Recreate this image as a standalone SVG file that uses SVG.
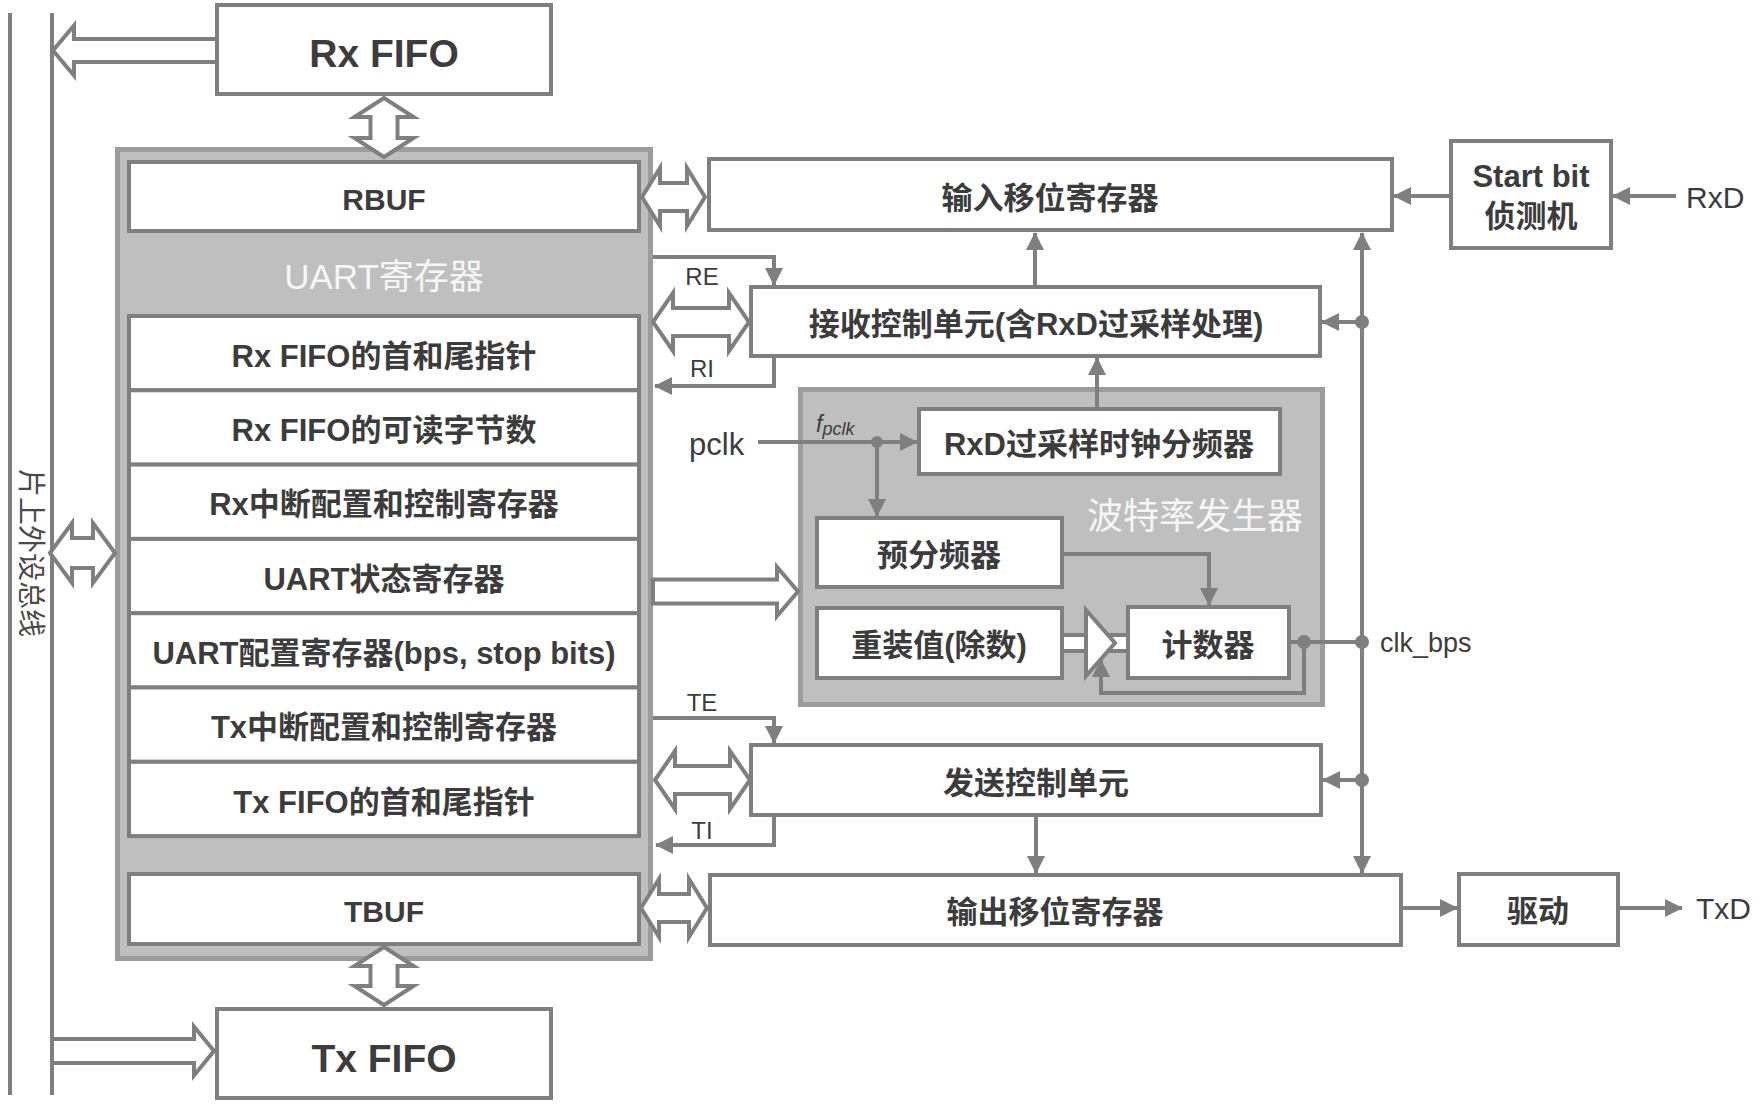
<svg xmlns="http://www.w3.org/2000/svg" width="1764" height="1104" viewBox="0 0 1764 1104">
<defs>
<style>
.box{fill:#fff;stroke:#7f7f7f;stroke-width:4}
.grp{fill:#bfbfbf;stroke:#9c9c9c;stroke-width:5}
.ln{fill:none;stroke:#7f7f7f;stroke-width:4}
.ha{fill:#fff;stroke:#7f7f7f;stroke-width:4;stroke-linejoin:miter}
.dot{fill:#7f7f7f}
text{font-family:"Liberation Sans","Noto Sans CJK SC",sans-serif;fill:#3c3c3c;dominant-baseline:central}
.b{font-weight:bold;font-size:31px;text-anchor:middle}
.big{font-weight:bold;font-size:39px;text-anchor:middle}
.buf{font-weight:bold;font-size:30px;text-anchor:middle}
.wt{fill:#f6f6f6;text-anchor:middle}
.lab{font-size:30px}
.sig{font-size:24px;text-anchor:middle}
</style>
<marker id="ah" viewBox="0 0 18 18" refX="17" refY="9" markerWidth="18" markerHeight="18" markerUnits="userSpaceOnUse" orient="auto">
<path d="M0,0 L18,9 L0,18 z" fill="#7f7f7f"/>
</marker>
</defs>

<g id="bus">
<line x1="10" y1="13" x2="10" y2="1095" class="ln"/>
<line x1="52" y1="13" x2="52" y2="1095" class="ln"/>
<text transform="translate(30,553) rotate(90)" style="font-size:28px;fill:#4a4a4a;text-anchor:middle">片上外设总线</text>
</g>

<g id="rxfifo">
<rect x="217" y="5" width="334" height="89" class="box"/>
<text x="384" y="53" class="big">Rx FIFO</text>
</g>

<g id="txfifo">
<rect x="217" y="1009" width="334" height="89" class="box"/>
<text x="384" y="1058" class="big">Tx FIFO</text>
</g>

<g id="uart-registers">
<rect x="117.5" y="149.5" width="533" height="809" class="grp"/>
<text x="384" y="276" class="wt" style="font-size:35px">UART寄存器</text>
</g>
<g id="rbuf"><rect x="129" y="162" width="510" height="69" class="box"/><text x="384" y="199" class="buf">RBUF</text></g>
<g id="reg1"><rect x="129" y="316" width="510" height="74.3" class="box"/><text x="384" y="356" class="b">Rx FIFO的首和尾指针</text></g>
<g id="reg2"><rect x="129" y="390.3" width="510" height="74.3" class="box"/><text x="384" y="430.5" class="b">Rx FIFO的可读字节数</text></g>
<g id="reg3"><rect x="129" y="464.6" width="510" height="74.3" class="box"/><text x="384" y="504.8" class="b">Rx中断配置和控制寄存器</text></g>
<g id="reg4"><rect x="129" y="538.9" width="510" height="74.3" class="box"/><text x="384" y="579" class="b">UART状态寄存器</text></g>
<g id="reg5"><rect x="129" y="613.2" width="510" height="74.3" class="box"/><text x="384" y="653.4" class="b">UART配置寄存器(bps, stop bits)</text></g>
<g id="reg6"><rect x="129" y="687.5" width="510" height="74.3" class="box"/><text x="384" y="727.7" class="b">Tx中断配置和控制寄存器</text></g>
<g id="reg7"><rect x="129" y="761.8" width="510" height="74.3" class="box"/><text x="384" y="802" class="b">Tx FIFO的首和尾指针</text></g>
<g id="tbuf"><rect x="129" y="874" width="510" height="70" class="box"/><text x="384" y="911" class="buf">TBUF</text></g>

<g id="shift-in"><rect x="709" y="159" width="683" height="71" class="box"/><text x="1050" y="198" class="b">输入移位寄存器</text></g>
<g id="startbit"><rect x="1451" y="141" width="160" height="107" class="box"/><text x="1531" y="176" class="b">Start bit</text><text x="1531" y="216" class="b">侦测机</text></g>
<g id="rx-ctrl"><rect x="751" y="287" width="569" height="69" class="box"/><text x="1036" y="324" class="b">接收控制单元(含RxD过采样处理)</text></g>

<g id="baud">
<rect x="800.5" y="389.5" width="522" height="315" class="grp"/>
<text x="1195" y="516" class="wt" style="font-size:36px">波特率发生器</text>
</g>
<g id="rxd-div"><rect x="919" y="409" width="361" height="65" class="box"/><text x="1099" y="444" class="b">RxD过采样时钟分频器</text></g>
<g id="prescaler"><rect x="817" y="518" width="245" height="69" class="box"/><text x="939" y="555" class="b">预分频器</text></g>
<g id="reload"><rect x="817" y="608" width="245" height="70" class="box"/><text x="939" y="645" class="b">重装值(除数)</text></g>
<g id="counter"><rect x="1128" y="607" width="161" height="71" class="box"/><text x="1208" y="645" class="b">计数器</text></g>

<g id="tx-ctrl"><rect x="751" y="745" width="570" height="70" class="box"/><text x="1036" y="783" class="b">发送控制单元</text></g>
<g id="shift-out"><rect x="710" y="875" width="691" height="70" class="box"/><text x="1055" y="912" class="b">输出移位寄存器</text></g>
<g id="driver"><rect x="1459" y="874" width="159" height="71" class="box"/><text x="1538" y="911" class="b">驱动</text></g>

<g id="connectors">
<polygon class="ha" points="217,39 74,39 74,25.5 53,50.5 74,75.5 74,62 217,62"/>
<polygon class="ha" points="52,1039 194,1039 194,1026.5 214,1051 194,1075.5 194,1063 52,1063"/>
<polygon class="ha" points="653,579.5 777,579.5 777,567 798,591.5 777,616 777,603.5 653,603.5"/>
<polygon class="ha" points="384,98 413.5,117 397.5,117 397.5,138 413.5,138 384,157 354.5,138 370.5,138 370.5,117 354.5,117"/>
<polygon class="ha" points="384,947 413.5,966 397.5,966 397.5,986 413.5,986 384,1005 354.5,986 370.5,986 370.5,966 354.5,966"/>
<polygon class="ha" points="50,553 72,523 72,538 93,538 93,523 115,553 93,583 93,568 72,568 72,583"/>
<polygon class="ha" points="642,197 660,168 660,183 687,183 687,168 705,197 687,226 687,211 660,211 660,226"/>
<polygon class="ha" points="653,322 673,293 673,308 729,308 729,293 749,322 729,351 729,336 673,336 673,351"/>
<polygon class="ha" points="655,780 675,751 675,766 730,766 730,751 750,780 730,809 730,794 675,794 675,809"/>
<polygon class="ha" points="641,908 659,879 659,894 689,894 689,879 707,908 689,937 689,922 659,922 659,937"/>
<rect x="1062" y="635" width="66" height="16" class="ha"/>
<polygon class="ha" points="1086,610 1115,643 1086,676"/>

<line x1="1676" y1="196" x2="1613" y2="196" class="ln" marker-end="url(#ah)"/>
<line x1="1449" y1="196" x2="1394" y2="196" class="ln" marker-end="url(#ah)"/>
<polyline points="653,257 774,257 774,285" class="ln" marker-end="url(#ah)"/>
<polyline points="774,358 774,386 655,386" class="ln" marker-end="url(#ah)"/>
<line x1="1035" y1="285" x2="1035" y2="233" class="ln" marker-end="url(#ah)"/>
<line x1="1097" y1="407" x2="1097" y2="358" class="ln" marker-end="url(#ah)"/>
<line x1="758" y1="442" x2="917" y2="442" class="ln" marker-end="url(#ah)"/>
<line x1="877" y1="442" x2="877" y2="516" class="ln" marker-end="url(#ah)"/>
<polyline points="1062,554 1209,554 1209,605" class="ln" marker-end="url(#ah)"/>
<line x1="1291" y1="642" x2="1362" y2="642" class="ln"/>
<polyline points="1304,642 1304,693 1101,693 1101,660" class="ln" marker-end="url(#ah)"/>
<line x1="1362" y1="330" x2="1362" y2="233" class="ln" marker-end="url(#ah)"/>
<line x1="1362" y1="320" x2="1362" y2="873" class="ln" marker-end="url(#ah)"/>
<line x1="1362" y1="322" x2="1322" y2="322" class="ln" marker-end="url(#ah)"/>
<line x1="1362" y1="780" x2="1323" y2="780" class="ln" marker-end="url(#ah)"/>
<polyline points="653,718 774,718 774,743" class="ln" marker-end="url(#ah)"/>
<polyline points="774,817 774,845 656,845" class="ln" marker-end="url(#ah)"/>
<line x1="1036" y1="817" x2="1036" y2="873" class="ln" marker-end="url(#ah)"/>
<line x1="1402" y1="908" x2="1457" y2="908" class="ln" marker-end="url(#ah)"/>
<line x1="1620" y1="908" x2="1682" y2="908" class="ln" marker-end="url(#ah)"/>
<circle cx="877" cy="442" r="6" class="dot"/>
<circle cx="1304" cy="642" r="7" class="dot"/>
<circle cx="1362" cy="642" r="7" class="dot"/>
<circle cx="1362" cy="322" r="7" class="dot"/>
<circle cx="1362" cy="780" r="7" class="dot"/>
</g>

<g id="labels">
<text x="1686" y="197" class="lab">RxD</text>
<text x="1696" y="908" class="lab">TxD</text>
<text x="1380" y="643" style="font-size:27px">clk_bps</text>
<text x="689" y="444" style="font-size:31px">pclk</text>
<text x="816" y="424" style="font-size:23px;font-style:italic">f<tspan dy="5" style="font-size:18px">pclk</tspan></text>
<text x="702" y="276" class="sig">RE</text>
<text x="702" y="368" class="sig">RI</text>
<text x="702" y="702" class="sig">TE</text>
<text x="702" y="830" class="sig">TI</text>
</g>
</svg>
